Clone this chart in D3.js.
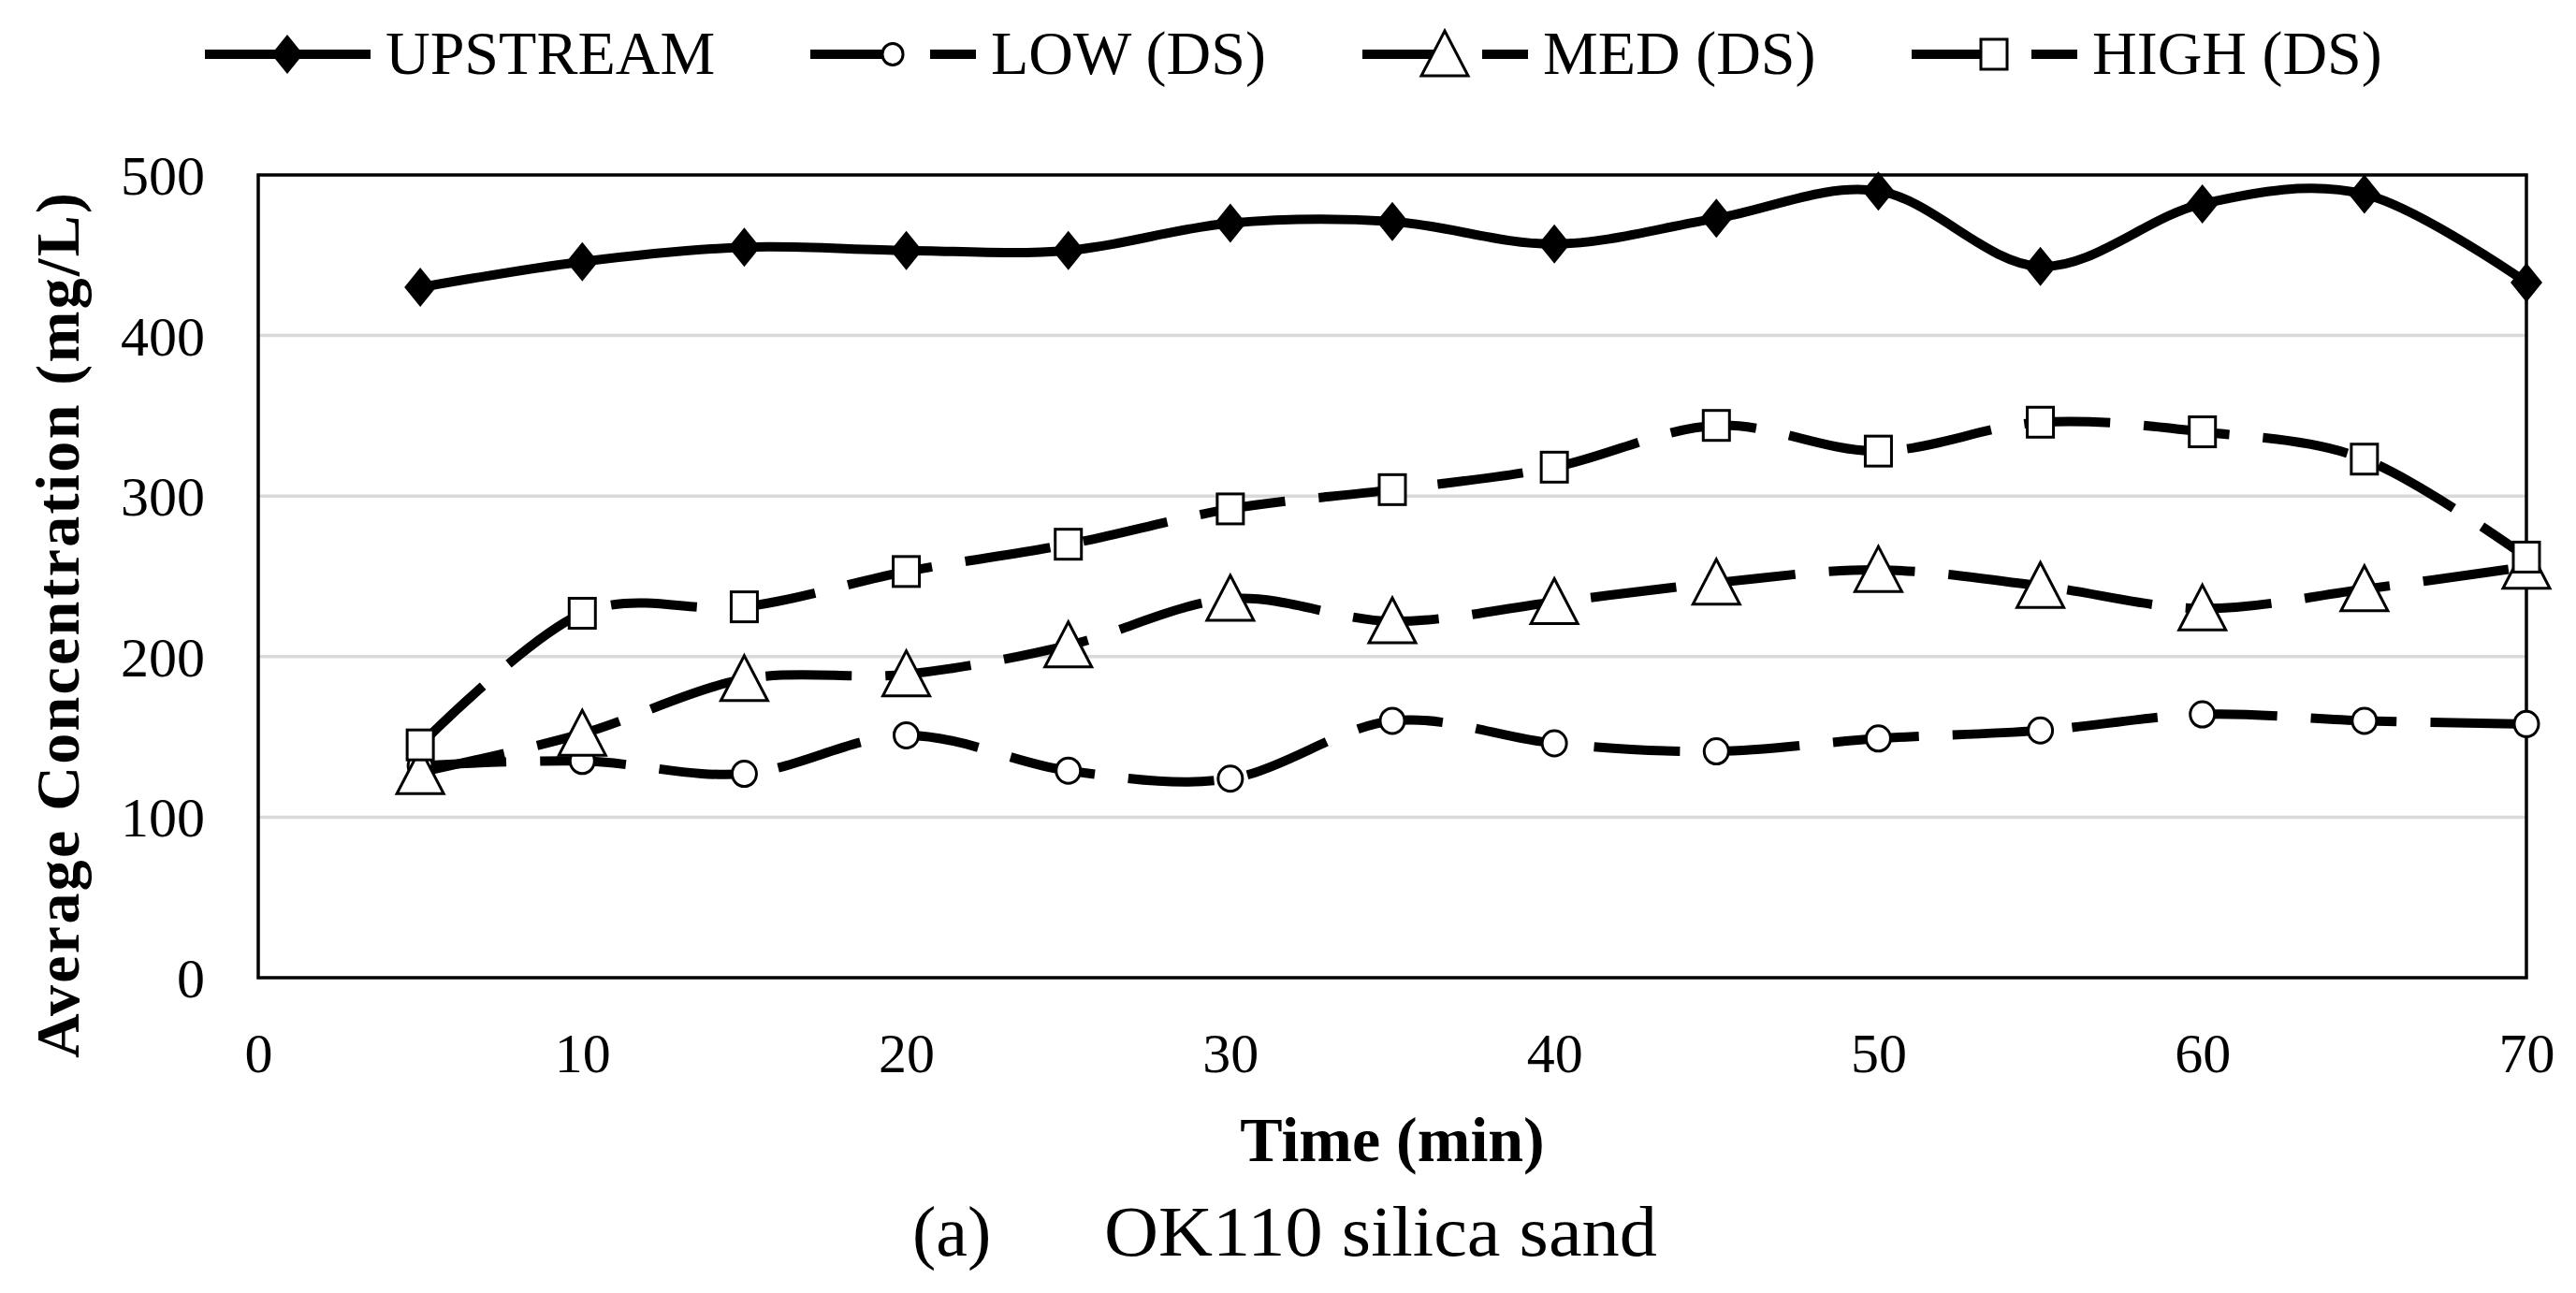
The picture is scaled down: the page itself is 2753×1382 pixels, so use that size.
<!DOCTYPE html>
<html><head><meta charset="utf-8">
<script src="https://cdn.jsdelivr.net/npm/d3@7"></script>
<style>body{margin:0;background:#fff} svg text{font-family:"Liberation Serif","Times New Roman",serif;fill:#000}</style>
</head><body><svg id="c" width="2753" height="1382"></svg>
<script>
const times = [5,10,15,20,25,30,35,40,45,50,55,60,65,70];
const upstream = [430,446,455,453,453,470,471,457,473,490,443,482,488,433];
const low = [132,135,127,151,129,124,160,146,141,149,154,164,160,158];
const med = [128,152,186,189,207,236,222,234,246,254,244,230,242,256];
const high = [145,227,231,253,270,292,304,318,344,328,346,340,323,262];
const seriesNames = ["UPSTREAM","LOW (DS)","MED (DS)","HIGH (DS)"];
const xTicks = [0,10,20,30,40,50,60,70];
const yTicks = [0,100,200,300,400,500];
const xTitle = "Time (min)";
const yTitle = "Average Concentration (mg/L)";
const captionLabel = "(a)";
const captionText = "OK110 silica sand";

const svg = d3.select("#c");
svg.append("rect").attr("width",2753).attr("height",1382).attr("fill","#fff");
const L=276,R=2700,T=187,B=1045;
const x = d3.scaleLinear().domain([0,70]).range([L,R]);
const y = d3.scaleLinear().domain([0,500]).range([B,T]);

// gridlines
svg.append("g").selectAll("line").data(yTicks.filter(v=>v>0&&v<500)).join("line")
  .attr("x1",L).attr("x2",R).attr("y1",d=>y(d)).attr("y2",d=>y(d))
  .attr("stroke","#d9d9d9").attr("stroke-width",3.5);

// axes labels
const ya = svg.append("g").attr("transform",`translate(${L},0)`)
  .call(d3.axisLeft(y).tickValues(yTicks).tickSize(0).tickPadding(57));
ya.select(".domain").remove();
ya.selectAll("text").attr("font-size",60).attr("font-family","Liberation Serif").attr("dy","0.34em");
const xa = svg.append("g").attr("transform",`translate(0,${B})`)
  .call(d3.axisBottom(x).tickValues(xTicks).tickSize(0).tickPadding(58));
xa.select(".domain").remove();
xa.selectAll("text").attr("font-size",60).attr("font-family","Liberation Serif");

// border
svg.append("rect").attr("x",L).attr("y",T).attr("width",R-L).attr("height",B-T)
  .attr("fill","none").attr("stroke","#000").attr("stroke-width",3.5);

// markers
function drawMarker(g, type, cx, cy, small){
  const k = small ? 0.85 : 1;
  if(type==="diamond"){
    g.append("path").attr("d",`M${cx},${cy-21}L${cx+17},${cy}L${cx},${cy+21}L${cx-17},${cy}Z`).attr("fill","#000");
  } else if(type==="circle"){
    g.append("ellipse").attr("cx",cx).attr("cy",cy).attr("rx",13*k).attr("ry",13.5*k).attr("fill","#fff").attr("stroke","#000").attr("stroke-width",3);
  } else if(type==="triangle"){
    g.append("path").attr("d",`M${cx},${cy-25}L${cx+25},${cy+23}L${cx-25},${cy+23}Z`).attr("fill","#fff").attr("stroke","#000").attr("stroke-width",3);
  } else if(type==="square"){
    g.append("rect").attr("x",cx-14).attr("y",cy-16).attr("width",28).attr("height",32).attr("fill","#fff").attr("stroke","#000").attr("stroke-width",3);
  }
}
const series = [
  {name:seriesNames[0], vals:upstream, marker:"diamond", dash:null},
  {name:seriesNames[1], vals:low, marker:"circle", dash:"92,36"},
  {name:seriesNames[2], vals:med, marker:"triangle", dash:"92,36"},
  {name:seriesNames[3], vals:high, marker:"square", dash:"92,36"}
];
const line = d3.line().x(d=>x(d[0])).y(d=>y(d[1])).curve(d3.curveCatmullRom.alpha(0));
series.forEach(s=>{
  const g = svg.append("g");
  const pts = times.map((t,i)=>[t,s.vals[i]]);
  g.append("path").attr("d",line(pts)).attr("fill","none").attr("stroke","#000")
    .attr("stroke-width",10).attr("stroke-dasharray",s.dash).attr("stroke-linejoin","round");
  pts.forEach(p=>drawMarker(g,s.marker,x(p[0]),y(p[1])));
});

// legend
const legX = [219,866,1456,2043];
const legY = 58;
series.forEach((s,i)=>{
  const g = svg.append("g");
  g.append("line").attr("x1",legX[i]).attr("x2",legX[i]+177).attr("y1",legY).attr("y2",legY)
    .attr("stroke","#000").attr("stroke-width",10).attr("stroke-dasharray",s.dash?"80,48":null);
  drawMarker(g,s.marker,legX[i]+88,legY,true);
  g.append("text").attr("x",legX[i]+193).attr("y",legY+21).attr("font-size",66).text(s.name);
});

// axis titles
svg.append("text").attr("x",1488).attr("y",1241).attr("text-anchor","middle")
  .attr("font-size",68).attr("font-weight","bold").text(xTitle);
svg.append("text").attr("transform","translate(84,1131) rotate(-90)")
  .attr("font-size",66).attr("font-weight","bold")
  .attr("textLength",925).attr("lengthAdjust","spacing").text(yTitle);

// caption
svg.append("text").attr("x",975).attr("y",1342).attr("font-size",76).text(captionLabel);
svg.append("text").attr("x",1180).attr("y",1342).attr("font-size",76)
  .attr("textLength",591).attr("lengthAdjust","spacingAndGlyphs").text(captionText);
</script></body></html>
